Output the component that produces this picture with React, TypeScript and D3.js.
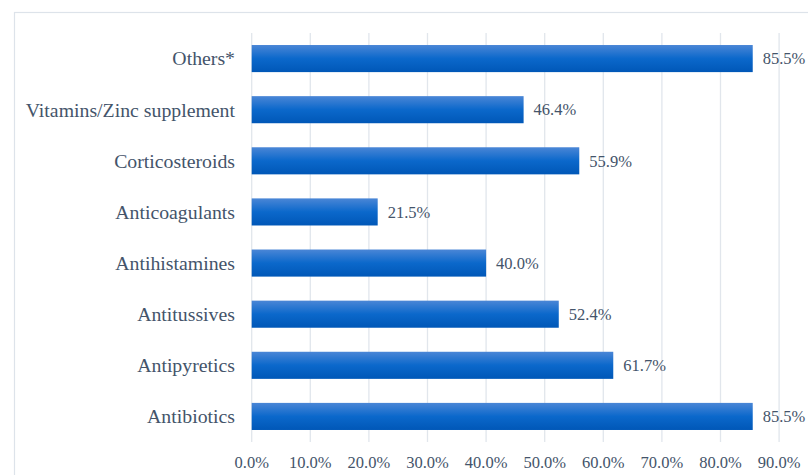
import React, { useEffect, useRef } from 'react';
import * as d3 from 'd3';

const categories = [
  'Others*',
  'Vitamins/Zinc supplement',
  'Corticosteroids',
  'Anticoagulants',
  'Antihistamines',
  'Antitussives',
  'Antipyretics',
  'Antibiotics',
];
const values = [85.5, 46.4, 55.9, 21.5, 40.0, 52.4, 61.7, 85.5];
const ticks = [0, 10, 20, 30, 40, 50, 60, 70, 80, 90];

const W = 808;
const H = 475;

export default function App() {
  const svgRef = useRef<SVGSVGElement>(null);

  useEffect(() => {
    if (!svgRef.current) return;
    const svg = d3.select(svgRef.current);
    svg.selectAll('*').remove();

    const left = 251.7;
    const right = 779.1;
    const top = 33;
    const bottom = 442;
    const font = 'Liberation Serif, Times New Roman, serif';
    const textColor = '#44546a';

    const defs = svg.append('defs');
    const grad = defs.append('linearGradient')
      .attr('id', 'barGrad')
      .attr('x1', 0).attr('y1', 0).attr('x2', 0).attr('y2', 1);
    grad.append('stop').attr('offset', '0%').attr('stop-color', '#4a86d6');
    grad.append('stop').attr('offset', '50%').attr('stop-color', '#0b68cb');
    grad.append('stop').attr('offset', '100%').attr('stop-color', '#0057b7');

    // chart frame
    svg.append('rect')
      .attr('x', 14.5).attr('y', 12.5)
      .attr('width', W).attr('height', H)
      .attr('fill', 'white')
      .attr('stroke', '#dde3ea')
      .attr('stroke-width', 1.2);

    const x = d3.scaleLinear().domain([0, 90]).range([left, right]);
    const y = d3.scaleBand().domain(categories).range([top, bottom]).paddingInner(0.47).paddingOuter(0.235);

    // gridlines
    svg.append('g')
      .selectAll('line')
      .data(ticks)
      .enter()
      .append('line')
      .attr('x1', d => x(d)).attr('x2', d => x(d))
      .attr('y1', top).attr('y2', bottom)
      .attr('stroke', '#e1e6ec')
      .attr('stroke-width', 1.3);

    // bars
    svg.append('g')
      .selectAll('rect')
      .data(categories)
      .enter()
      .append('rect')
      .attr('x', x(0))
      .attr('y', d => y(d)!)
      .attr('width', (d, i) => x(values[i]) - x(0))
      .attr('height', y.bandwidth())
      .attr('fill', 'url(#barGrad)');

    // value labels
    svg.append('g')
      .selectAll('text')
      .data(categories)
      .enter()
      .append('text')
      .attr('x', (d, i) => x(values[i]) + 10)
      .attr('y', d => y(d)! + y.bandwidth() / 2)
      .attr('dy', '0.35em')
      .attr('font-family', font)
      .attr('font-size', 16.5)
      .attr('fill', textColor)
      .text((d, i) => values[i].toFixed(1) + '%');

    // category labels
    svg.append('g')
      .selectAll('text')
      .data(categories)
      .enter()
      .append('text')
      .attr('x', 235)
      .attr('y', d => y(d)! + y.bandwidth() / 2)
      .attr('dy', '0.35em')
      .attr('text-anchor', 'end')
      .attr('font-family', font)
      .attr('font-size', 19.8)
      .attr('fill', textColor)
      .text(d => d);

    // x tick labels
    svg.append('g')
      .selectAll('text')
      .data(ticks)
      .enter()
      .append('text')
      .attr('x', d => x(d))
      .attr('y', 462)
      .attr('dy', '0.35em')
      .attr('text-anchor', 'middle')
      .attr('font-family', font)
      .attr('font-size', 16.5)
      .attr('fill', textColor)
      .text(d => d.toFixed(1) + '%');
  }, []);

  return (
    <svg
      ref={svgRef}
      width={W}
      height={H}
      style={{ position: 'absolute', left: 0, top: 0, display: 'block' }}
    />
  );
}
